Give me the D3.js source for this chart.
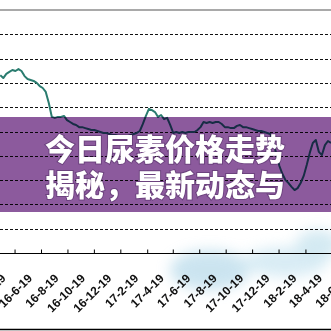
<!DOCTYPE html>
<html>
<head>
<meta charset="utf-8">
<script src="https://cdn.jsdelivr.net/npm/d3@7"></script>
<style>
  body { margin: 0; background: #fff; }
  svg { display: block; }
</style>
</head>
<body>
<div id="chart"></div>
<script>
// weekly urea price, first week starting 2016-03-17
var startDate = "2016-03-17";
var prices = [
  1732, 1720, 1737, 1745, 1753, 1749, 1757, 1749, 1728, 1716,
  1712, 1708, 1700, 1687, 1679, 1663, 1617, 1560, 1556, 1560,
  1560, 1564, 1547, 1539, 1531, 1527, 1518, 1518, 1514, 1510,
  1506, 1506, 1502, 1498, 1494, 1494, 1490, 1486, 1486, 1481,
  1477, 1481, 1481, 1486, 1490, 1494, 1502, 1531, 1564, 1593,
  1588, 1580, 1560, 1568, 1551, 1556, 1527, 1494, 1498, 1494,
  1498, 1494, 1498, 1498, 1498, 1506, 1518, 1539, 1535, 1539,
  1535, 1539, 1539, 1531, 1518, 1518, 1514, 1514, 1523, 1527,
  1518, 1518, 1514, 1510, 1506, 1502, 1502, 1498, 1494, 1490,
  1453, 1407, 1358, 1325, 1300, 1288, 1272, 1259, 1267, 1288,
  1317, 1362, 1412, 1453, 1465, 1416, 1403, 1444, 1461, 1453
];
var tickDates = [
  "2016-04-19", "2016-06-19", "2016-08-19", "2016-10-19", "2016-12-19",
  "2017-02-19", "2017-04-19", "2017-06-19", "2017-08-19", "2017-10-19",
  "2017-12-19", "2018-02-19", "2018-04-19", "2018-06-19"
];
var gridValues = [1100, 1200, 1300, 1400, 1500, 1600, 1700, 1800, 1900];
var titleLines = ["今日尿素价格走势", "揭秘，最新动态与"];

var w = 331, h = 331;
var axisY = 253;

var parse = d3.timeParse("%Y-%m-%d");
var fmt = d3.timeFormat("%y-%-m-%-d");

var dataset = prices.map(function(p, i) {
  return { date: d3.timeWeek.offset(parse(startDate), i), price: p };
});

var xScale = d3.scaleTime()
  .domain([parse("2016-06-19"), parse("2018-04-19")])
  .range([41, 331]);

var yScale = d3.scaleLinear()
  .domain([1000, 2000])
  .range([axisY, 10]);

var svg = d3.select("#chart")
  .append("svg")
  .attr("width", w)
  .attr("height", h);

var defs = svg.append("defs");
defs.append("filter")
  .attr("id", "blur")
  .attr("x", "-50%").attr("y", "-50%")
  .attr("width", "200%").attr("height", "200%")
  .append("feGaussianBlur")
  .attr("stdDeviation", 7);

// faint blue smudge behind the tick labels
var smudge = svg.append("g").attr("filter", "url(#blur)").attr("opacity", 0.6);
smudge.append("ellipse").attr("cx", 210).attr("cy", 270).attr("rx", 40).attr("ry", 20).attr("fill", "#a9d3e6");
smudge.append("ellipse").attr("cx", 285).attr("cy", 262).attr("rx", 42).attr("ry", 15).attr("fill", "#bfe0ee");
smudge.append("ellipse").attr("cx", 318).attr("cy", 245).attr("rx", 22).attr("ry", 15).attr("fill", "#b7dcea");

// top border
svg.append("line")
  .attr("x1", 0).attr("x2", w)
  .attr("y1", yScale(2000)).attr("y2", yScale(2000))
  .attr("stroke", "#8c8c8c")
  .attr("stroke-width", 1.5);

// dashed gridlines
svg.append("g")
  .selectAll("line")
  .data(gridValues)
  .enter()
  .append("line")
  .attr("x1", 0).attr("x2", w)
  .attr("y1", function(d) { return Math.round(yScale(d)) + 0.5; })
  .attr("y2", function(d) { return Math.round(yScale(d)) + 0.5; })
  .attr("stroke", "#111")
  .attr("stroke-width", 1)
  .attr("stroke-dasharray", "3,2");

var line = d3.line()
  .x(function(d) { return xScale(d.date); })
  .y(function(d) { return yScale(d.price); });

svg.append("path")
  .datum(dataset)
  .attr("fill", "none")
  .attr("stroke", "#2a7c6f")
  .attr("stroke-width", 2)
  .attr("stroke-linejoin", "round")
  .attr("d", line);

// x axis, ticks pointing up
var xAxis = d3.axisBottom(xScale)
  .tickValues(tickDates.map(parse))
  .tickSizeInner(-4)
  .tickSizeOuter(0)
  .tickFormat("");

var gx = svg.append("g")
  .attr("transform", "translate(0," + (axisY + 0.5) + ")")
  .call(xAxis);
gx.select(".domain").attr("stroke", "#000").attr("d", "M0,0H" + w);
gx.selectAll(".tick line").attr("stroke", "#000");

svg.append("g")
  .selectAll("text")
  .data(tickDates.map(parse))
  .enter()
  .append("text")
  .attr("transform", function(d) {
    return "translate(" + (xScale(d) - 8) + "," + 279 + ") rotate(-45)";
  })
  .attr("text-anchor", "end")
  .attr("font-family", "'Liberation Sans', Arial, sans-serif")
  .attr("font-weight", "bold")
  .attr("font-size", "12px")
  .attr("fill", "#111")
  .text(fmt);

// bottom border
svg.append("line")
  .attr("x1", 0).attr("x2", w)
  .attr("y1", 329.5).attr("y2", 329.5)
  .attr("stroke", "#000")
  .attr("stroke-width", 1.5);

// purple title banner
svg.append("rect")
  .attr("x", 0).attr("y", 117)
  .attr("width", w).attr("height", 95)
  .attr("fill", "#8c5a9d")
  .style("mix-blend-mode", "multiply");

svg.append("g")
  .selectAll("text")
  .data(titleLines)
  .enter()
  .append("text")
  .attr("x", 165)
  .attr("y", function(d, i) { return 160 + i * 36; })
  .attr("text-anchor", "middle")
  .attr("font-family", "'Noto Sans CJK SC', sans-serif")
  .attr("font-weight", 900)
  .attr("font-size", "30px")
  .attr("fill", "#fff")
  .style("paint-order", "stroke")
  .attr("stroke", "rgba(60,30,80,0.4)")
  .attr("stroke-width", 2)
  .text(function(d) { return d; });
</script>
</body>
</html>
